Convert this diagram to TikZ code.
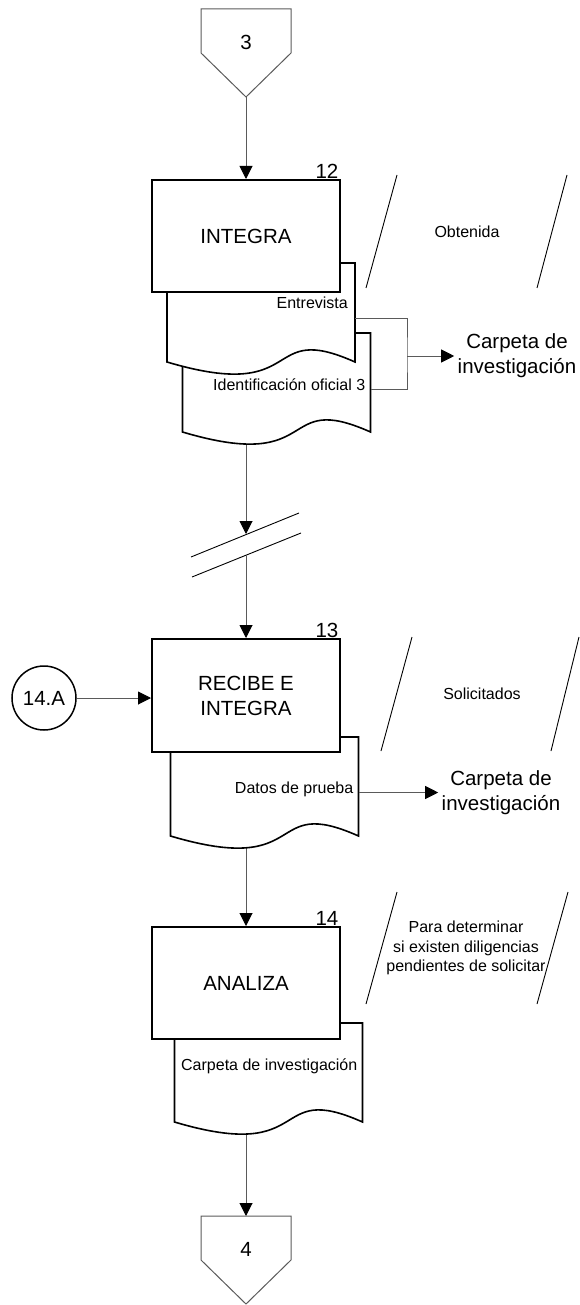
\documentclass[tikz,border=0pt]{standalone}
\usepackage{fontspec}
\setmainfont{Liberation Sans}
\usetikzlibrary{arrows.meta,calc,backgrounds}
\definecolor{lineagris}{HTML}{5A5A5A}
\newcommand{\letragrande}{\fontsize{20.5}{25}\selectfont}
\newcommand{\letrachica}{\fontsize{16}{19.5}\selectfont}

\begin{document}
\begin{tikzpicture}[
    x=1pt, y=-1pt,
    proceso/.style={
        rectangle,
        draw,
        line width=2pt,
        fill=white,
        minimum width=188pt,
        minimum height=112pt,
        inner sep=0pt,
        align=center,
        font=\letragrande
    },
    docu/.style={
        rectangle,
        minimum width=188pt,
        minimum height=99pt,
        inner sep=0pt,
        outer sep=0pt
    },
    docline/.style={draw, line width=1.6pt, fill=white},
    docpath/.style={
        insert path={(#1.south west) -- (#1.north west) -- (#1.north east) -- (#1.south east)
            .. controls ($(#1.south west)!0.5!(#1.south east)+(0,-42)$)
            and ($(#1.south west)!0.75!(#1.south east)+(0,42)$) .. (#1.south west) -- cycle}
    },
    doctexto/.style={font=\letrachica, anchor=east, inner sep=0pt},
    numero/.style={font=\letragrande, anchor=south east, inner sep=0.5pt, xshift=-2pt},
    conector/.style={
        rectangle,
        minimum width=90pt,
        minimum height=66pt,
        inner sep=0pt,
        outer sep=0pt,
        font=\letragrande
    },
    conline/.style={draw=lineagris, line width=1pt},
    flecha/.style={
        -{Triangle[length=13pt, width=13pt, color=black]},
        draw=lineagris,
        line width=1pt
    },
    linea/.style={draw=lineagris, line width=1pt},
    nota/.style={line width=0.9pt},
    textonota/.style={font=\letrachica, align=center},
    destino/.style={font=\letragrande, align=center}
]
    \useasboundingbox (0,0) rectangle (580,1305);

    % Conector de entrada
    \node[conector] (c3) at (246,42) {3};
    \draw[conline] (c3.north west) -- (c3.north east) -- ([yshift=-44pt]c3.north east)
        -- ([yshift=-88pt]c3.north) coordinate (c3p) -- ([yshift=-44pt]c3.north west) -- cycle;

    % Actividad 12
    \node[docu] (d2) at (276.5,382.5) {};
    \draw[docline, docpath=d2];
    \node[doctexto] (t2) at ([xshift=-5pt,yshift=-52pt]d2.north east) {Identificación oficial 3};
    \node[docu] (d1) at (261,312.5) {};
    \draw[docline, docpath=d1];
    \node[doctexto] (t1) at ([xshift=-7pt,yshift=-40pt]d1.north east) {Entrevista};
    \node[proceso, label={[numero]north east:12}] (b12) at (246,236) {INTEGRA};

    \node[textonota] (n12) at (467,232) {Obtenida};
    \draw[nota] ([shift={(-70,-57)}]n12.center) -- ([shift={(-101,56)}]n12.center);
    \draw[nota] ([shift={(100,-57)}]n12.center) -- ([shift={(70,56)}]n12.center);

    \coordinate (brk) at (407,356);
    \node[destino] (cd1) at (517,356) {Carpeta de\\investigación};
    \draw[linea] ([yshift=-6pt]d1.east) -| (brk) |- ([yshift=-7pt]d2.east);
    \draw[flecha] (brk) -- (cd1);

    % Corte
    \coordinate (cut1) at (246,534);
    \coordinate (cut2) at (246,555);
    \draw[nota] ([shift={(-55,23)}]cut1) -- ([shift={(53,-21)}]cut1);
    \draw[nota] ([shift={(-54,22)}]cut2) -- ([shift={(55,-22)}]cut2);

    % Actividad 13
    \node[docu] (d3) at (264.5,786.5) {};
    \draw[docline, docpath=d3];
    \node[doctexto] (t3) at ([xshift=-5pt,yshift=-52pt]d3.north east) {Datos de prueba};
    \node[proceso, minimum height=113pt, label={[numero]north east:13}] (b13) at (246,695.5) {RECIBE E\\INTEGRA};
    \node[circle, draw, line width=1.5pt, minimum size=64pt, inner sep=0pt, font=\letragrande] (p14a) at (44,698) {14.A};

    \node[textonota] (n13) at (482,694) {Solicitados};
    \draw[nota] ([shift={(-70,-57)}]n13.center) -- ([shift={(-101,57)}]n13.center);
    \draw[nota] ([shift={(97,-57)}]n13.center) -- ([shift={(69,57)}]n13.center);

    \node[destino] (cd2) at (501,793) {Carpeta de\\investigación};
    \draw[flecha] ([yshift=-6pt]d3.east) -- ([yshift=-6pt]d3.east -| cd2.west);
    \draw[flecha] (p14a.east) -- (p14a.east -| b13.west);

    % Actividad 14
    \node[docu] (d4) at (268.5,1072.5) {};
    \draw[docline, docpath=d4];
    \node[doctexto] (t4) at ([xshift=-5pt,yshift=-43pt]d4.north east) {Carpeta de investigación};
    \node[proceso, label={[numero]north east:14}] (b14) at (246,983) {ANALIZA};

    \node[textonota] (n14) at (466,948) {Para determinar\\si existen diligencias\\pendientes de solicitar};
    \draw[nota] ([shift={(-69,-56)}]n14.center) -- ([shift={(-100,56)}]n14.center);
    \draw[nota] ([shift={(102,-56)}]n14.center) -- ([shift={(71,56)}]n14.center);

    % Conector de salida
    \node[conector] (c4) at (246,1249) {4};
    \draw[conline] (c4.north west) -- (c4.north east) -- ([yshift=-44pt]c4.north east)
        -- ([yshift=-88pt]c4.north) -- ([yshift=-44pt]c4.north west) -- cycle;

    % Flechas
    \draw[flecha] (c3p) -- (b12);
    \draw[flecha] (cut2) -- (b13);
    \begin{scope}[on background layer]
        \draw[flecha] (b12) -- (cut1);
        \draw[flecha] (b13) -- (b14);
        \draw[flecha] (b14) -- (c4.north);
    \end{scope}
\end{tikzpicture}
\end{document}
